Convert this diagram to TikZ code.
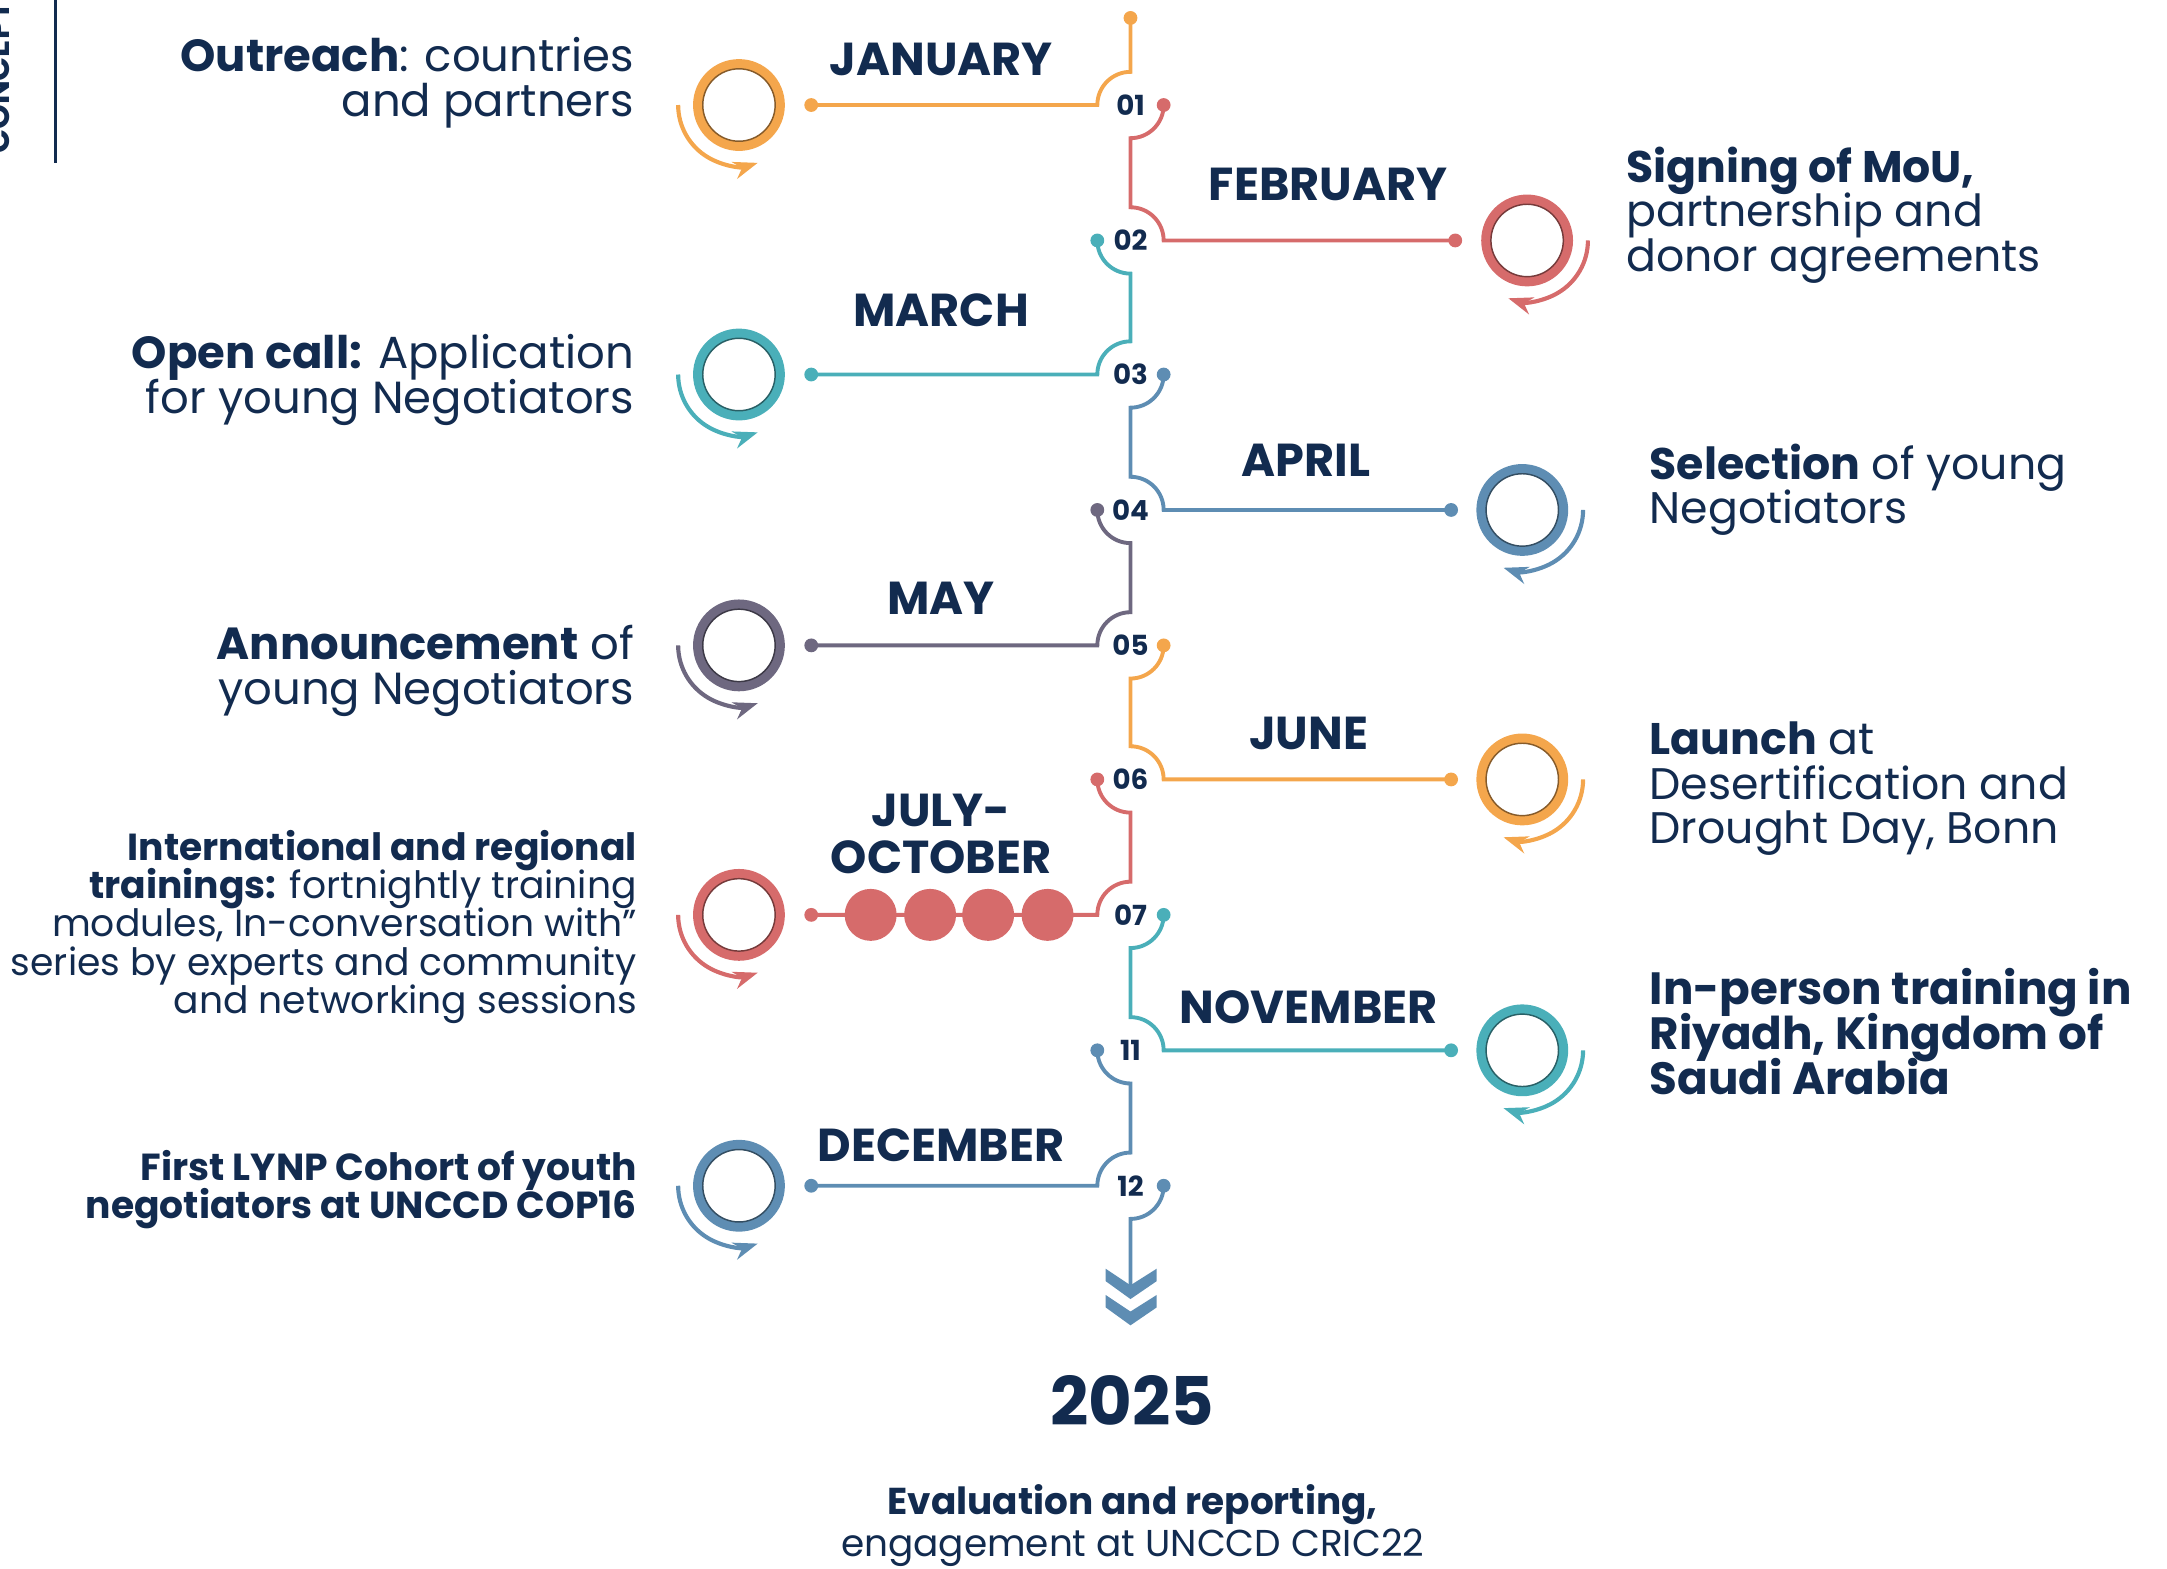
\documentclass[tikz,border=0pt]{standalone}
\usepackage{fontspec}
\setmainfont{Poppins}
\usetikzlibrary{arrows.meta, positioning}
\definecolor{navy}{RGB}{18,43,79}
\definecolor{tlorange}{RGB}{244,166,76}
\definecolor{tlred}{RGB}{214,107,107}
\definecolor{tlteal}{RGB}{74,175,185}
\definecolor{tlsteel}{RGB}{94,141,179}
\definecolor{tlplum}{RGB}{110,104,128}
\newcommand\tightsize[2]{\fontsize{#1}{#2}\selectfont\lineskiplimit=-\maxdimen}

\begin{document}
\begin{tikzpicture}[x=0.01cm, y=-0.01cm,
  tline/.style={draw=#1, line width=0.8pt},
  tring/.style={draw=#1, line width=2pt},
  trim/.style={draw=#1!55!black, line width=0.3pt},
  tarc/.style={draw=#1, line width=0.85pt, -{Stealth[length=5pt, width=3.6pt, inset=1.6pt]}},
  mlabel/.style={anchor=base, inner sep=0, align=center, text=navy, font=\bfseries\tightsize{9.5}{9.7}},
  nlabel/.style={inner sep=0, text=navy, font=\bfseries\fontsize{5.7}{6}\selectfont},
  ltext/.style={anchor=base east, inner sep=0, align=right, text=navy, font=\tightsize{9.25}{9.25}},
  rtext/.style={anchor=base west, inner sep=0, align=left, text=navy, font=\tightsize{9.1}{9.2}},
  stext/.style={ltext, font=\tightsize{7.75}{7.85}}]
  \useasboundingbox (0,0) rectangle (1568,1134.6);

  % side title
  \draw[navy, line width=0.55pt] (40,0) -- (40,118);
  \node[anchor=base west, rotate=90, inner sep=0, text=navy, font=\bfseries\fontsize{6.5}{6.5}\selectfont] (side) at (7,112) {CONCEPT};

  % month numbers
  \node[nlabel] (n01) at (818,76) {01};
  \node[nlabel] (n02) at (818,174) {02};
  \node[nlabel] (n03) at (818,271) {03};
  \node[nlabel] (n04) at (818,369) {04};
  \node[nlabel] (n05) at (818,467) {05};
  \node[nlabel] (n06) at (818,564) {06};
  \node[nlabel] (n07) at (818,662) {07};
  \node[nlabel] (n11) at (818,760) {11};
  \node[nlabel] (n12) at (818,858) {12};

  % start and end dots
  \coordinate (top) at (818,13);
  \coordinate (jan-e) at (587,76);
  \coordinate (feb-s) at (842,76);   \coordinate (feb-e) at (1053,174);
  \coordinate (mar-s) at (794,174);  \coordinate (mar-e) at (587,271);
  \coordinate (apr-s) at (842,271);  \coordinate (apr-e) at (1050,369);
  \coordinate (may-s) at (794,369);  \coordinate (may-e) at (587,467);
  \coordinate (jun-s) at (842,467);  \coordinate (jun-e) at (1050,564);
  \coordinate (jul-s) at (794,564);  \coordinate (jul-e) at (587,662);
  \coordinate (nov-s) at (842,662);  \coordinate (nov-e) at (1050,760);
  \coordinate (dec-s) at (794,760);  \coordinate (dec-e) at (587,858);
  \coordinate (end-s) at (842,858);  \coordinate (end-e) at (818,930);

  % timeline
  \draw[tline=tlorange] (top) -- (818,52) arc[start angle=-90, end angle=-180, radius=24] -- (jan-e);
  \draw[tline=tlred] (feb-s) arc[start angle=0, end angle=90, radius=24] -- (818,150) arc[start angle=-90, end angle=0, radius=24] -- (feb-e);
  \draw[tline=tlteal] (mar-s) arc[start angle=180, end angle=90, radius=24] -- (818,247) arc[start angle=-90, end angle=-180, radius=24] -- (mar-e);
  \draw[tline=tlsteel] (apr-s) arc[start angle=0, end angle=90, radius=24] -- (818,345) arc[start angle=-90, end angle=0, radius=24] -- (apr-e);
  \draw[tline=tlplum] (may-s) arc[start angle=180, end angle=90, radius=24] -- (818,443) arc[start angle=-90, end angle=-180, radius=24] -- (may-e);
  \draw[tline=tlorange] (jun-s) arc[start angle=0, end angle=90, radius=24] -- (818,540) arc[start angle=-90, end angle=0, radius=24] -- (jun-e);
  \draw[tline=tlred] (jul-s) arc[start angle=180, end angle=90, radius=24] -- (818,638) arc[start angle=-90, end angle=-180, radius=24] -- (jul-e);
  \draw[tline=tlteal] (nov-s) arc[start angle=0, end angle=90, radius=24] -- (818,736) arc[start angle=-90, end angle=0, radius=24] -- (nov-e);
  \draw[tline=tlsteel] (dec-s) arc[start angle=180, end angle=90, radius=24] -- (818,834) arc[start angle=-90, end angle=-180, radius=24] -- (dec-e);
  \draw[tline=tlsteel] (end-s) arc[start angle=0, end angle=90, radius=24] -- (end-e);

  \fill[tlorange] (top) circle[radius=5] (jan-e) circle[radius=5] (jun-s) circle[radius=5] (jun-e) circle[radius=5];
  \fill[tlred] (feb-s) circle[radius=5] (feb-e) circle[radius=5] (jul-s) circle[radius=5] (jul-e) circle[radius=5];
  \fill[tlteal] (mar-s) circle[radius=5] (mar-e) circle[radius=5] (nov-s) circle[radius=5] (nov-e) circle[radius=5];
  \fill[tlsteel] (apr-s) circle[radius=5] (apr-e) circle[radius=5] (dec-s) circle[radius=5] (dec-e) circle[radius=5] (end-s) circle[radius=5];
  \fill[tlplum] (may-s) circle[radius=5] (may-e) circle[radius=5];

  % july-october beads
  \fill[tlred] (630,662) circle[radius=18.8] (673,662) circle[radius=18.8] (715,662) circle[radius=18.8] (758,662) circle[radius=18.8];

  % arrow to 2025
  \fill[tlsteel] (800,918) -- (818,930) -- (837,918) -- (837,927) -- (818,940) -- (800,927) -- cycle;
  \fill[tlsteel] (800,937) -- (818,949) -- (837,937) -- (837,946) -- (818,959) -- (800,946) -- cycle;

  % left cycles
  \draw[tring=tlorange] (534.7,76) circle[radius=29.7];
  \draw[trim=tlorange] (534.7,76) circle[radius=26.2];
  \draw[tarc=tlorange] (490.7,76) arc[start angle=180, end angle=72, radius=44];
  \draw[tring=tlteal] (534.7,271) circle[radius=29.7];
  \draw[trim=tlteal] (534.7,271) circle[radius=26.2];
  \draw[tarc=tlteal] (490.7,271) arc[start angle=180, end angle=72, radius=44];
  \draw[tring=tlplum] (534.7,467) circle[radius=29.7];
  \draw[trim=tlplum] (534.7,467) circle[radius=26.2];
  \draw[tarc=tlplum] (490.7,467) arc[start angle=180, end angle=72, radius=44];
  \draw[tring=tlred] (534.7,662) circle[radius=29.7];
  \draw[trim=tlred] (534.7,662) circle[radius=26.2];
  \draw[tarc=tlred] (490.7,662) arc[start angle=180, end angle=72, radius=44];
  \draw[tring=tlsteel] (534.7,858) circle[radius=29.7];
  \draw[trim=tlsteel] (534.7,858) circle[radius=26.2];
  \draw[tarc=tlsteel] (490.7,858) arc[start angle=180, end angle=72, radius=44];

  % right cycles
  \draw[tring=tlred] (1105,174) circle[radius=29.7];
  \draw[trim=tlred] (1105,174) circle[radius=26.2];
  \draw[tarc=tlred] (1149,174) arc[start angle=0, end angle=108, radius=44];
  \draw[tring=tlsteel] (1101.5,369) circle[radius=29.7];
  \draw[trim=tlsteel] (1101.5,369) circle[radius=26.2];
  \draw[tarc=tlsteel] (1145.5,369) arc[start angle=0, end angle=108, radius=44];
  \draw[tring=tlorange] (1101.5,564) circle[radius=29.7];
  \draw[trim=tlorange] (1101.5,564) circle[radius=26.2];
  \draw[tarc=tlorange] (1145.5,564) arc[start angle=0, end angle=108, radius=44];
  \draw[tring=tlteal] (1101.5,760) circle[radius=29.7];
  \draw[trim=tlteal] (1101.5,760) circle[radius=26.2];
  \draw[tarc=tlteal] (1145.5,760) arc[start angle=0, end angle=108, radius=44];

  % months
  \node[mlabel] (jan) at (681,54.3) {JANUARY};
  \node[mlabel] (feb) at (961,145.4) {FEBRUARY};
  \node[mlabel] (mar) at (681,236.4) {MARCH};
  \node[mlabel] (apr) at (945,344.5) {APRIL};
  \node[mlabel] (may) at (681,444.5) {MAY};
  \node[mlabel] (jun) at (947,542.5) {JUNE};
  \node[mlabel] (jul) at (681,632.1) {JULY-\\OCTOBER};
  \node[mlabel] (nov) at (947,740.5) {NOVEMBER};
  \node[mlabel] (dec) at (681,840.4) {DECEMBER};

  % activities, left (anchored at the last line)
  \node[ltext] (jan-t) at (459.5,84.4) {\textbf{Outreach}: countries\\and partners};
  \node[ltext] (mar-t) at (459.5,299) {\textbf{Open call:} Application\\for young Negotiators};
  \node[ltext] (may-t) at (459.5,510) {\textbf{Announcement} of\\young Negotiators};
  \node[stext] (jul-t) at (461.5,733.2) {\textbf{International and regional}\\\textbf{trainings:} fortnightly training\\modules, In-conversation with”\\series by experts and community\\and networking sessions};
  \node[stext] (dec-t) at (461.5,881.6) {\textbf{First LYNP Cohort of youth}\\\textbf{negotiators at UNCCD COP16}};

  % activities, right (anchored at the last line)
  \node[rtext] (feb-t) at (1176,196.6) {\textbf{Signing of MoU,}\\partnership and\\donor agreements};
  \node[rtext] (apr-t) at (1193,379) {\textbf{Selection} of young\\Negotiators};
  \node[rtext] (jun-t) at (1193,610.7) {\textbf{Launch} at\\Desertification and\\Drought Day, Bonn};
  \node[rtext, font=\bfseries\tightsize{9.3}{9.2}] (nov-t) at (1193,791.8) {In-person training in\\Riyadh, Kingdom of\\Saudi Arabia};

  % closing year
  \node[anchor=base, inner sep=0, text=navy, font=\bfseries\fontsize{13.8}{13.8}\selectfont] (year) at (819.5,1031.6) {2025};
  \node[anchor=base, inner sep=0, align=center, text=navy, font=\tightsize{7.7}{8.6}] (year-t) at (819.5,1126.4) {\textbf{Evaluation and reporting,}\\engagement at UNCCD CRIC22};
\end{tikzpicture}
\end{document}
